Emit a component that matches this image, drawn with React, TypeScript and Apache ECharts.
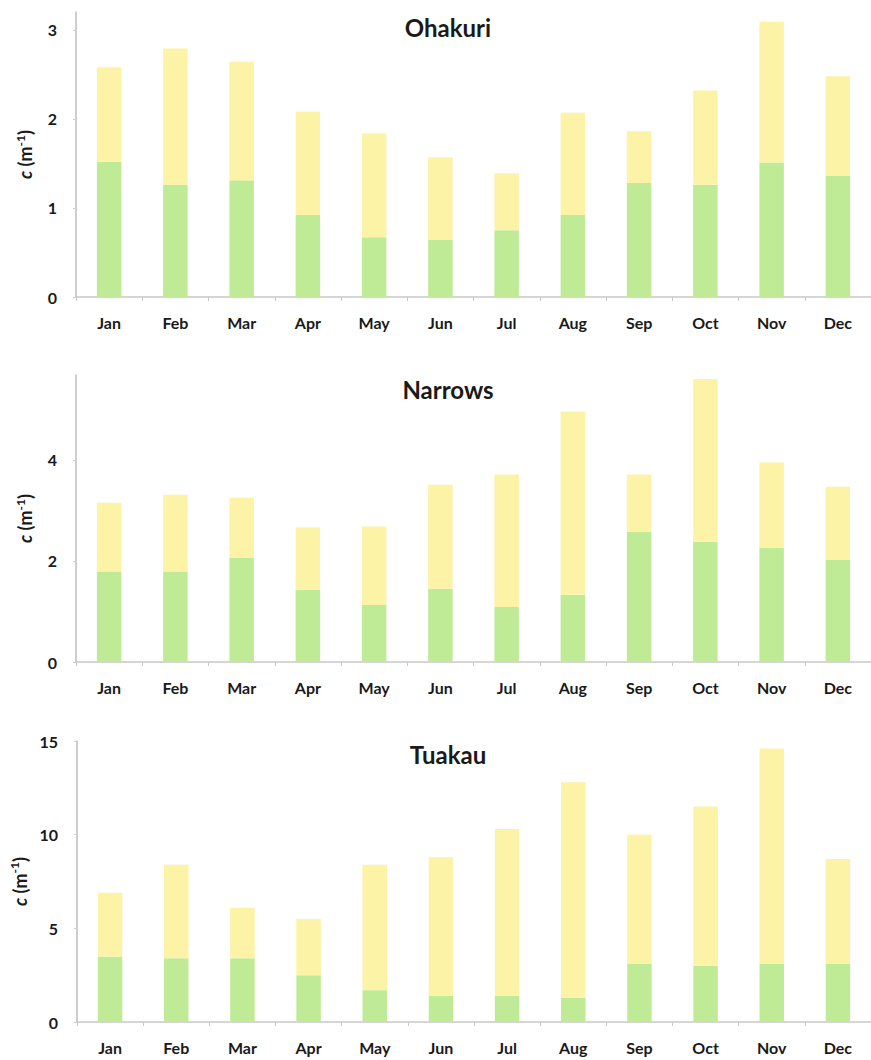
import React, { useEffect, useRef } from "react";
import * as echarts from "echarts";

const months = ["Jan", "Feb", "Mar", "Apr", "May", "Jun", "Jul", "Aug", "Sep", "Oct", "Nov", "Dec"];

const panelTitles = ["Ohakuri", "Narrows", "Tuakau"];

// totals (green + yellow) and green part
const ohakuriGreen = [1.52, 1.26, 1.31, 0.92, 0.67, 0.64, 0.75, 0.92, 1.28, 1.26, 1.51, 1.36];
const ohakuriTotal = [2.58, 2.79, 2.64, 2.08, 1.84, 1.57, 1.39, 2.07, 1.86, 2.32, 3.09, 2.48];

const narrowsGreen = [1.79, 1.79, 2.06, 1.43, 1.13, 1.45, 1.09, 1.33, 2.58, 2.38, 2.26, 2.02];
const narrowsTotal = [3.15, 3.31, 3.25, 2.66, 2.68, 3.51, 3.71, 4.96, 3.71, 5.6, 3.95, 3.47];

const tuakauGreen = [3.5, 3.4, 3.4, 2.5, 1.7, 1.4, 1.4, 1.3, 3.1, 3.0, 3.1, 3.1];
const tuakauTotal = [6.9, 8.4, 6.1, 5.5, 8.4, 8.8, 10.3, 12.8, 10.0, 11.5, 14.6, 8.7];

const yMax = [3.2, 5.68, 15];
const yInterval = [1, 2, 5];

const GREEN = "#c0eb96";
const YELLOW = "#fcf3a6";
const FONT = "Lato";
const INK = "#1a1a1a";

export default function App() {
  const ref = useRef<HTMLDivElement>(null);
  useEffect(() => {
    if (!ref.current) return;
    const chart = echarts.init(ref.current, undefined, { renderer: "svg" });
    const greens = [ohakuriGreen, narrowsGreen, tuakauGreen];
    const totals = [ohakuriTotal, narrowsTotal, tuakauTotal];
    const grids = [
      { left: 76, width: 796, top: 12, height: 285 },
      { left: 76, width: 796, top: 375, height: 287 },
      { left: 77, width: 796, top: 741, height: 281 },
    ];
    const titleTops = [10, 372, 737];
    const option: any = {
      animation: false,
      backgroundColor: "#ffffff",
      title: panelTitles.map((t, i) => ({
        text: t,
        left: 443,
        textAlign: "center",
        top: titleTops[i],
        textStyle: { fontFamily: FONT, fontWeight: "bold", fontSize: 24, color: INK },
      })),
      grid: grids,
      xAxis: grids.map((_, i) => ({
        type: "category",
        gridIndex: i,
        data: months,
        axisLine: { lineStyle: { color: "#c8c8c8", width: 1.5 } },
        axisTick: { show: true, length: 4, lineStyle: { color: "#c8c8c8" } },
        axisLabel: {
          fontFamily: FONT,
          fontWeight: "bold",
          fontSize: 16,
          color: INK,
          margin: 17,
        },
      })),
      yAxis: grids.map((_, i) => ({
        type: "value",
        gridIndex: i,
        min: 0,
        max: yMax[i],
        interval: yInterval[i],
        splitLine: { show: false },
        axisLine: { show: true, lineStyle: { color: "#bdbdbd", width: 1.5 } },
        axisTick: { show: true, length: 3, lineStyle: { color: "#d0d0d0" } },
        axisLabel: {
          fontFamily: FONT,
          fontWeight: "bold",
          fontSize: 16,
          color: INK,
          margin: 19,
          showMaxLabel: i === 2,
        },
        name: "{i|c}{n| (m}{s|-1}{n|)}",
        nameLocation: "middle",
        nameRotate: 90,
        nameGap: 40,
        nameTextStyle: {
          fontFamily: FONT,
          fontWeight: "bold",
          fontSize: 18,
          color: INK,
          rich: {
            i: { fontFamily: FONT, fontWeight: "bold", fontStyle: "italic", fontSize: 18, color: INK, lineHeight: 22 },
            n: { fontFamily: FONT, fontWeight: "bold", fontSize: 18, color: INK, lineHeight: 22 },
            s: { fontFamily: FONT, fontWeight: "bold", fontSize: 12, color: INK, verticalAlign: "top", lineHeight: 22, padding: [0, 0, 7, 0] },
          },
        },
      })),
      series: grids.flatMap((_, i) => [
        {
          type: "bar",
          xAxisIndex: i,
          yAxisIndex: i,
          stack: "s" + i,
          barWidth: "37%",
          data: greens[i],
          itemStyle: { color: GREEN },
        },
        {
          type: "bar",
          xAxisIndex: i,
          yAxisIndex: i,
          stack: "s" + i,
          barWidth: "37%",
          data: totals[i].map((t, k) => +(t - greens[i][k]).toFixed(2)),
          itemStyle: { color: YELLOW },
        },
      ]),
    };
    chart.setOption(option);
    return () => chart.dispose();
  }, []);
  return (
    <div
      ref={ref}
      style={{ position: "fixed", left: 0, top: 0, width: 871, height: 1060, background: "#fff" }}
    />
  );
}
